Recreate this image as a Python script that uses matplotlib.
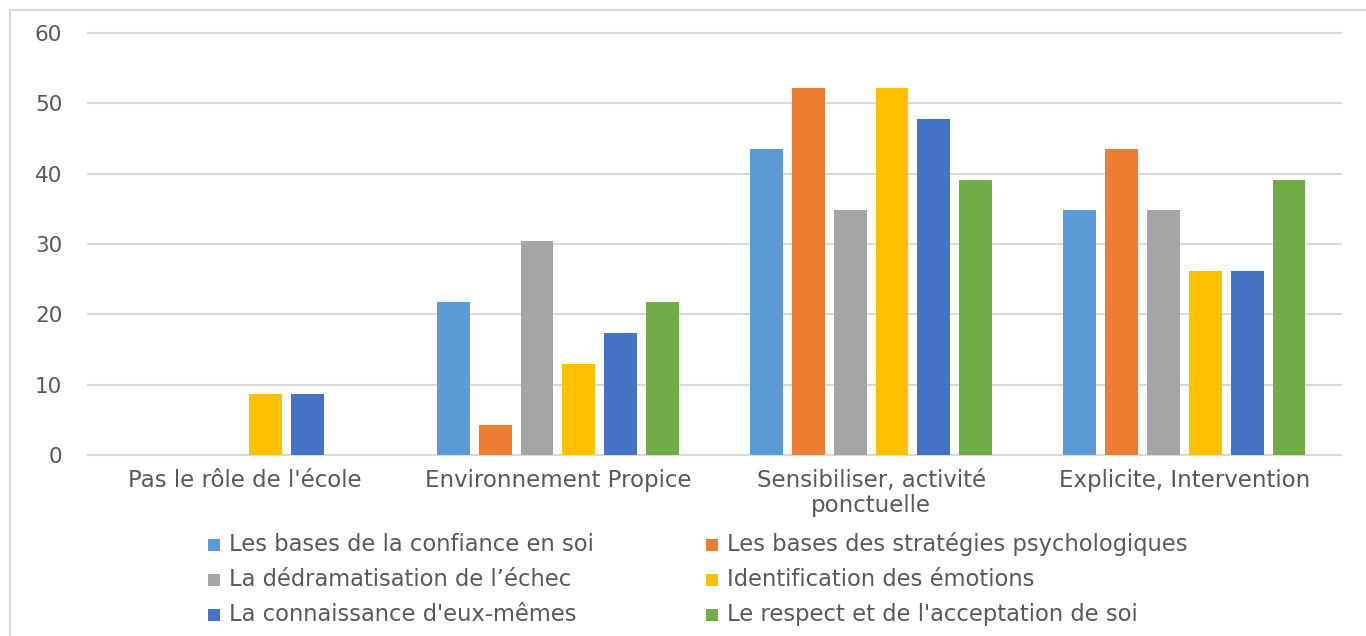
import numpy as np
import matplotlib
matplotlib.use("Agg")
import matplotlib.pyplot as plt
from matplotlib.patches import Rectangle
from matplotlib.lines import Line2D

categories = ["Pas le rôle de l'école", "Environnement Propice",
              "Sensibiliser, activité\nponctuelle", "Explicite, Intervention"]
series_names = ["Les bases de la confiance en soi",
                "Les bases des stratégies psychologiques",
                "La dédramatisation de l\u2019échec",
                "Identification des émotions",
                "La connaissance d'eux-mêmes",
                "Le respect et de l'acceptation de soi"]
confiance = [0, 21.7, 43.5, 34.8]
strategies = [0, 4.3, 52.2, 43.5]
dedramatisation = [0, 30.4, 34.8, 34.8]
emotions = [8.7, 13.0, 52.2, 26.1]
connaissance = [8.7, 17.4, 47.8, 26.1]
respect = [0, 21.7, 39.1, 39.1]
yticks = [0, 10, 20, 30, 40, 50, 60]

colours = ["#5B9BD5", "#ED7D31", "#A5A5A5", "#FFC000", "#4472C4", "#70AD47"]
text_col = "#595959"
grid_col = "#D9D9D9"

W, H = 1366, 636
fig = plt.figure(figsize=(W / 100, H / 100), dpi=100)

# outer frame (only left and top edges visible in the crop)
fig.add_artist(Line2D([10 / W, 10 / W], [0, 1 - 10 / H], color=grid_col, lw=1.5,
                      transform=fig.transFigure))
fig.add_artist(Line2D([10 / W, 1], [1 - 10 / H, 1 - 10 / H], color=grid_col, lw=1.5,
                      transform=fig.transFigure))

ax = fig.add_axes([88 / W, 1 - 455 / H, (1341 - 88) / W, (455 - 33) / H])

all_series = [confiance, strategies, dedramatisation, emotions, connaissance, respect]
x = np.arange(len(categories))
pitch = 0.1336
width = 0.105
for i, vals in enumerate(all_series):
    ax.bar(x + (i - 2.5) * pitch, vals, width, color=colours[i], zorder=3,
           label=series_names[i])

ax.set_xlim(-0.5, len(categories) - 0.5)
ax.set_ylim(0, 60)
ax.set_yticks(yticks)
ax.yaxis.grid(True, color=grid_col, lw=1.5, zorder=0)
for gl in ax.get_ygridlines():
    gl.set_clip_on(False)
for s in ["top", "right", "left"]:
    ax.spines[s].set_visible(False)
ax.spines["bottom"].set_color(grid_col)
ax.spines["bottom"].set_linewidth(1.5)
ax.set_xticks(x)
ax.set_xticklabels(categories, fontsize=16.5, color=text_col, family="DejaVu Sans",
                   linespacing=1.1)
ax.tick_params(axis="both", length=0)
ax.tick_params(axis="y", pad=18.5, labelsize=15.5, labelcolor=text_col)
ax.tick_params(axis="x", pad=10)
for lab in ax.get_yticklabels():
    lab.set_family("DejaVu Sans")

# legend: 2 columns x 3 rows, placed by hand so the rows share a baseline
col_x = [208, 706]
row_y = [545, 580, 615]
sq = 12
for i, name in enumerate(series_names):
    lx = col_x[i % 2]
    ly = row_y[i // 2]
    fig.add_artist(Rectangle((lx / W, 1 - (ly + sq / 2) / H), sq / W, sq / H,
                             facecolor=colours[i], edgecolor="none",
                             transform=fig.transFigure))
    fig.text((lx + 21) / W, 1 - (ly + 6) / H, name, ha="left", va="baseline",
             fontsize=16.3, color=text_col, family="DejaVu Sans")

fig.savefig("out.png", dpi=100)
